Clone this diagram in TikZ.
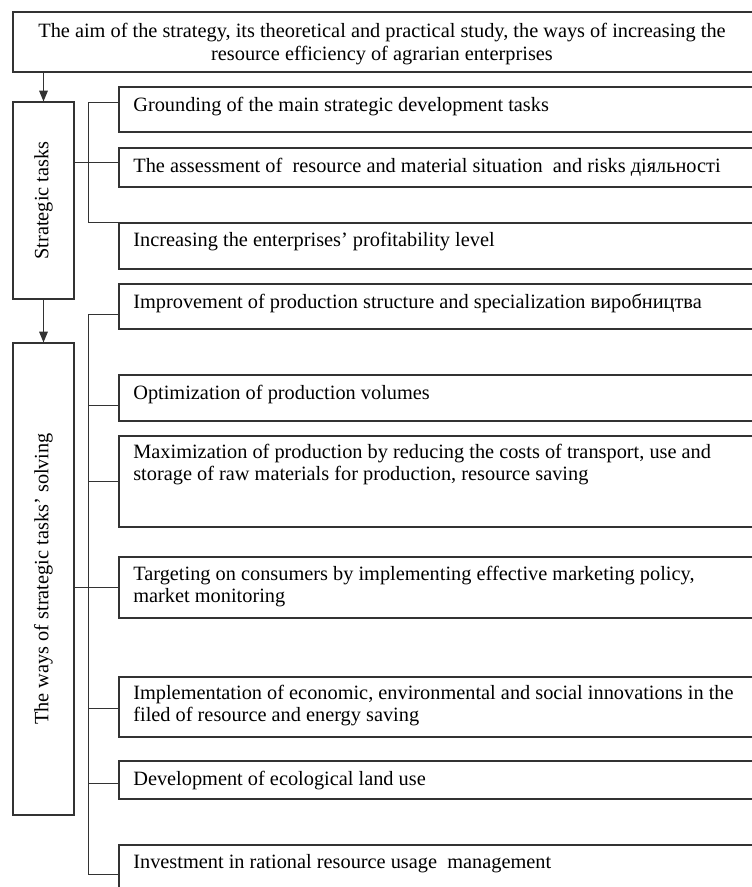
\documentclass[tikz,border=0pt]{standalone}
\usepackage{fontspec}
\setmainfont{Liberation Serif}
\usetikzlibrary{arrows.meta,fit}
\newcommand\fs{\fontsize{12.2}{13.5}\selectfont}
\begin{document}
\begin{tikzpicture}[x=0.6pt,y=-0.6pt,
  frame/.style={draw=black!80, line width=0.7pt, rectangle, inner sep=0pt},
  conn/.style={draw=black!80, line width=0.7pt},
  arr/.style={conn, -{Triangle[length=6.5pt,width=5.2pt]}},
  lbl/.style={anchor=base west, inner sep=0pt, align=left, font=\fs},
  vlbl/.style={rotate=90, inner sep=0pt, font=\fs}]
\useasboundingbox (0,0) rectangle (752,887);
\clip (0,0) rectangle (752,887);
% boxes
\node[frame, fit={(13,12) (757,72)}] (top) {};
\node[frame, fit={(13,102) (74,299)}] (s) {};
\node[frame, fit={(13,343) (74,815)}] (w) {};
\node[frame, fit={(119,87) (757,132)}] (g1) {};
\node[frame, fit={(119,148) (757,187)}] (g2) {};
\node[frame, fit={(119,223) (757,269)}] (g3) {};
\node[frame, fit={(119,284) (757,329)}] (w1) {};
\node[frame, fit={(119,375) (757,421)}] (w2) {};
\node[frame, fit={(119,436) (757,527)}] (w3) {};
\node[frame, fit={(119,557) (757,618)}] (w4) {};
\node[frame, fit={(119,677) (757,737)}] (w5) {};
\node[frame, fit={(119,761) (757,799)}] (w6) {};
\node[frame, fit={(119,845) (757,905)}] (w7) {};
% texts (base = baseline of last line)
\node[align=center, inner sep=0pt, font=\fs] (ttop) at (382,44) {The aim of the strategy, its theoretical and practical study, the ways of increasing the\\ resource efficiency of agrarian enterprises};
\node[vlbl] (ts) at (s.center) {Strategic tasks};
\node[vlbl] (tw) at (w.center) {The ways of strategic tasks’ solving};
\node[lbl] (tg1) at (133,111) {Grounding of the main strategic development tasks};
\node[lbl] (tg2) at (133,172) {The assessment of~ resource and material situation~ and risks діяльності};
\node[lbl] (tg3) at (133,246) {Increasing the enterprises’ profitability level};
\node[lbl] (tw1) at (133,308) {Improvement of production structure and specialization виробництва};
\node[lbl] (tw2) at (133,399) {Optimization of production volumes};
\node[lbl] (tw3) at (133,480.5) {Maximization of production by reducing the costs of transport, use and\\ storage of raw materials for production, resource saving};
\node[lbl] (tw4) at (133,602.5) {Targeting on consumers by implementing effective marketing policy,\\ market monitoring};
\node[lbl] (tw5) at (133,721.5) {Implementation of economic, environmental and social innovations in the\\ filed of resource and energy saving};
\node[lbl] (tw6) at (133,785) {Development of ecological land use};
\node[lbl] (tw7) at (133,868) {Investment in rational resource usage~ management};
% connectors
\draw[arr] (s.north |- top.south) -- (s.north);
\draw[arr] (s.south) -- (w.north);
\coordinate (g1c) at ([yshift=-9.6pt]g1.north west);
\coordinate (g2c) at ([yshift=-9pt]g2.north west);
\draw[conn] (g1c) -- ++(-30,0) |- (g3.north west);
\draw[conn] (g2c) -- (g2c -| s.east);
\coordinate (w1c) at ([yshift=-18.6pt]w1.north west);
\coordinate (w2c) at ([yshift=-18.6pt]w2.north west);
\coordinate (w3c) at ([yshift=-27.6pt]w3.north west);
\coordinate (w4c) at ([yshift=-18.6pt]w4.north west);
\coordinate (w5c) at ([yshift=-19.2pt]w5.north west);
\coordinate (w6c) at ([yshift=-13.8pt]w6.north west);
\coordinate (w7c) at ([yshift=-18pt]w7.north west);
\draw[conn] (w1c) -- ++(-30,0) |- (w7c);
\foreach \c in {w2c,w3c,w5c,w6c} \draw[conn] (\c) -- ++(-30,0);
\draw[conn] (w4c) -- (w4c -| w.east);
\end{tikzpicture}
\end{document}
